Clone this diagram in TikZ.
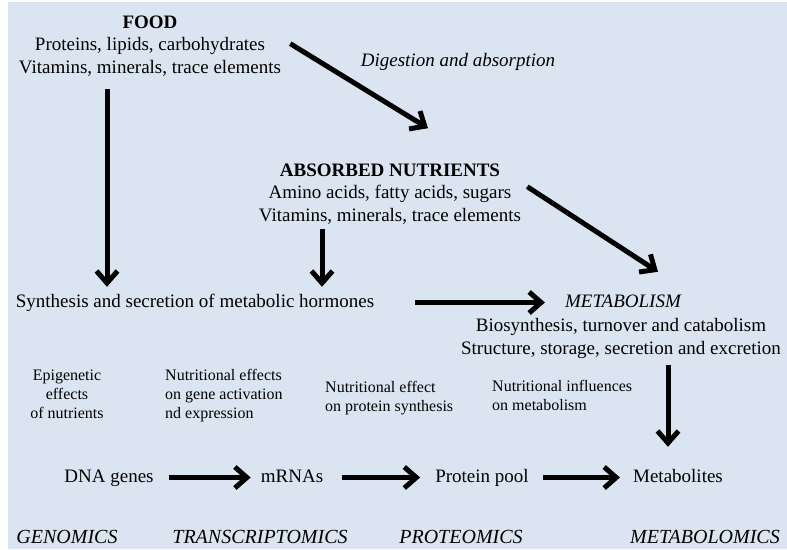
\documentclass[tikz,border=0pt]{standalone}
\usepackage{fontspec}
\setmainfont{Liberation Serif}
\usetikzlibrary{arrows.meta}
\definecolor{paleblue}{HTML}{DBE5F1}
\tikzset{
  every node/.style={inner sep=0pt, anchor=base, font=\fontsize{19}{22.5}\selectfont},
  txt/.style={align=center},
  word/.style={text height=13pt, text depth=4pt},
  slanted/.style={word, font=\fontsize{19}{22.5}\selectfont\itshape},
  note/.style={align=left, font=\fontsize{16}{19}\selectfont},
  omics/.style={font=\fontsize{20}{24}\selectfont\itshape},
  bigarrow/.style={line width=5pt, -{Straight Barb[length=12pt,width=21pt]}},
}
\begin{document}
\begin{tikzpicture}[x=1pt,y=-1pt]
\fill[white] (0,0) rectangle (787,549);
\fill[paleblue] (8,2) rectangle (787,549);
\useasboundingbox (0,0) rectangle (787,549);

% upper part (base = last line)
\node[txt] (food) at (150,73) {\textbf{FOOD}\\Proteins, lipids, carbohydrates\\Vitamins, minerals, trace elements};
\node[slanted] (digest) at (458,66) {Digestion and absorption};
\node[txt] (absorbed) at (390,221) {\textbf{ABSORBED NUTRIENTS}\\Amino acids, fatty acids, sugars\\Vitamins, minerals, trace elements};
\node[word] (hormones) at (195,307) {Synthesis and secretion of metabolic hormones};
\node[slanted] (metab) at (623,307) {METABOLISM};
\node[txt] (metabtext) at (621,354) {Biosynthesis, turnover and catabolism\\Structure, storage, secretion and excretion};

% effects of nutrients
\node[note, align=center] (epinote) at (67,418) {Epigenetic\\effects\\of nutrients};
\node[note, anchor=base west] (transnote) at (165,418) {Nutritional effects\\on gene activation\\nd expression};
\node[note, anchor=base west] (protnote) at (325,411) {Nutritional effect\\on protein synthesis};
\node[note, anchor=base west] (metanote) at (492,410) {Nutritional influences\\on metabolism};

% omics chain
\node[word] (dna) at (109,482) {DNA genes};
\node[word] (mrna) at (292,482) {mRNAs};
\node[word] (prot) at (482,482) {Protein pool};
\node[word] (metabolites) at (678,482) {Metabolites};

\node[omics] (genomics) at (67,543) {GENOMICS};
\node[omics] (transcriptomics) at (260,543) {TRANSCRIPTOMICS};
\node[omics] (proteomics) at (461,543) {PROTEOMICS};
\node[omics] (metabolomics) at (705,543) {METABOLOMICS};

% arrows
\draw[bigarrow] ([xshift=-43pt,yshift=-13pt]food.south) -- ([xshift=-88pt,yshift=7pt]hormones.north);
\draw[bigarrow] ([xshift=9pt,yshift=2pt]food.east) -- ([xshift=38pt,yshift=35pt]absorbed.north);
\draw[bigarrow] ([xshift=6pt,yshift=7pt]absorbed.east) -- ([xshift=35pt,yshift=22pt]metab.north);
\draw[bigarrow] ([xshift=-68pt,yshift=-5pt]absorbed.south) -- ([xshift=127pt,yshift=7pt]hormones.north);
\draw[bigarrow] ([xshift=41pt]hormones.east) -- ([xshift=-20pt]metab.west);
\draw[bigarrow] ([xshift=47pt,yshift=-7pt]metabtext.south) -- ([xshift=-10pt,yshift=22pt]metabolites.north);
\draw[bigarrow, shorten <=15pt, shorten >=10pt] (dna) -- (mrna);
\draw[bigarrow, shorten <=19pt, shorten >=15pt] (mrna) -- (prot);
\draw[bigarrow, shorten <=14pt, shorten >=13pt] (prot) -- (metabolites);
\end{tikzpicture}
\end{document}
